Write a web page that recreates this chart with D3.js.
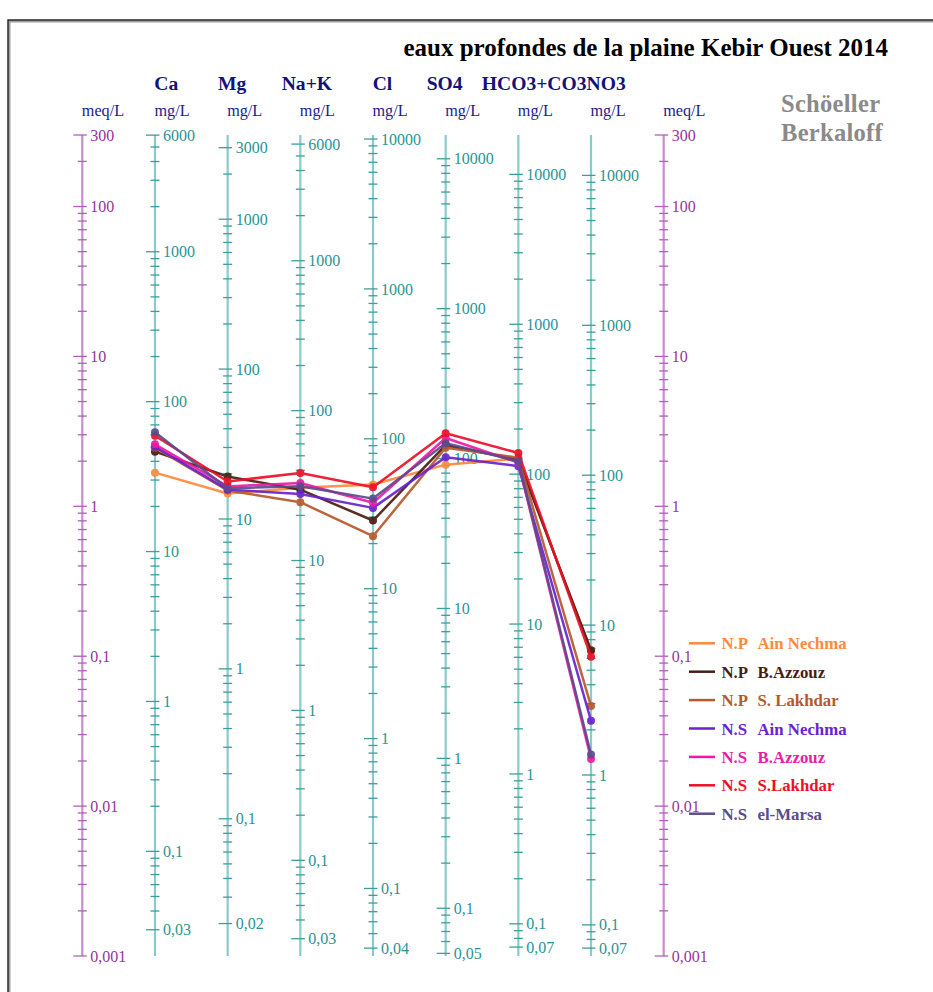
<!DOCTYPE html>
<html>
<head>
<meta charset="utf-8">
<script src="https://cdn.jsdelivr.net/npm/d3@7"></script>
<style>
  html, body { margin: 0; padding: 0; background: #fff; }
  svg { display: block; }
  text { font-family: "Liberation Serif", "Times New Roman", serif; }
</style>
</head>
<body>
<svg id="chart" width="933" height="992"></svg>
<script>
// Ions plotted on the Schoeller-Berkaloff diagram, with equivalent weights (mg per meq)
const ions = ["Ca", "Mg", "Na+K", "Cl", "SO4", "HCO3+CO3", "NO3"];
const equivWeights = [20.04, 12.15, 23.0, 35.45, 48.03, 61.02, 62.0];

// Concentrations in mg/L, one array per well group
const npAinNechma  = [33.6, 14.8, 30.6, 49.5,  91.1, 126.9, 6.7];
const npBAzzouz    = [46.4, 19.2, 29.7, 28.5, 122.8, 124.9, 6.8];
const npSLakhdar   = [49.3, 15.5, 24.5, 22.4, 118.2, 128.8, 2.88];
const nsAinNechma  = [50.1, 15.7, 27.8, 34.6, 102.2, 113.1, 2.30];
const nsBAzzouz    = [52.0, 16.5, 32.9, 37.4, 137.2, 119.3, 1.28];
const nsSLakhdar   = [59.3, 17.8, 38.4, 47.5, 147.7, 138.5, 6.15];
const nsElMarsa    = [62.6, 16.0, 31.3, 39.9, 126.7, 122.1, 1.37];

const seriesNames  = [["N.P", "Ain Nechma"], ["N.P", "B.Azzouz"], ["N.P", "S. Lakhdar"],
                      ["N.S", "Ain Nechma"], ["N.S", "B.Azzouz"], ["N.S", "S.Lakhdar"], ["N.S", "el-Marsa"]];
const seriesValues = [npAinNechma, npBAzzouz, npSLakhdar, nsAinNechma, nsBAzzouz, nsSLakhdar, nsElMarsa];
const seriesColors = ["#ff8a3c", "#4a1d12", "#b65a2c", "#6a22cf", "#ee1aa6", "#ec1028", "#5c4b8e"];

// meq/L range of the diagram
const meqDomain = [0.001, 300];

const titleText = "eaux profondes de la plaine Kebir Ouest 2014";

// ---- layout ----
const svg = d3.select("#chart");
const yTop = 135, yBottom = 956;

// page frame
svg.append("rect").attr("x", 9).attr("y", 21).attr("width", 1000).attr("height", 1000)
  .attr("fill", "none").attr("stroke", "#a0a0a0").attr("stroke-width", 3);
svg.append("rect").attr("x", 8).attr("y", 20).attr("width", 1000).attr("height", 1000)
  .attr("fill", "none").attr("stroke", "#111").attr("stroke-width", 1.2);

// horizontal positions: meq, the seven ions, meq
const axisKeys = ["meqL"].concat(ions, ["meqR"]);
const x = d3.scalePoint().domain(axisKeys).range([82.3, 663.7]);

const yMeq = d3.scaleLog().domain(meqDomain).range([yBottom, yTop]);
const ionScales = equivWeights.map(w =>
  d3.scaleLog().domain([meqDomain[0] * w, meqDomain[1] * w]).range([yBottom, yTop]));

function logTicks(domain) {
  const out = [];
  const k0 = Math.floor(Math.log10(domain[0])), k1 = Math.ceil(Math.log10(domain[1]));
  for (let k = k0; k <= k1; k++) {
    for (let d = 1; d <= 9; d++) {
      const v = +(d * Math.pow(10, k)).toPrecision(6);
      if (v >= domain[0] * (1 - 1e-9) && v <= domain[1] * (1 + 1e-9)) out.push(v);
    }
  }
  return out;
}
function fmt(v) { return String(v).replace(".", ","); }

function drawAxis(cx, scale, lineColor, tickColor, labelColor) {
  const ticks = logTicks(scale.domain());
  const isDecade = v => Math.abs(Math.log10(v) - Math.round(Math.log10(v))) < 1e-9;
  const lo = ticks[0], hi = ticks[ticks.length - 1];
  const labelled = v => isDecade(v) || v === lo || v === hi;
  const g = svg.append("g");
  g.append("line").attr("x1", cx).attr("x2", cx).attr("y1", yTop).attr("y2", yBottom)
    .attr("stroke", lineColor).attr("stroke-width", 2.2);
  g.selectAll("line.t").data(ticks).enter().append("line")
    .attr("x1", d => cx - (labelled(d) ? 9 : 4.5)).attr("x2", d => cx + 4.5)
    .attr("y1", d => scale(d)).attr("y2", d => scale(d))
    .attr("stroke", tickColor).attr("stroke-width", 1.3);
  g.selectAll("text").data(ticks.filter(labelled)).enter().append("text")
    .attr("x", cx + 8).attr("y", d => scale(d)).attr("dy", "0.35em")
    .attr("font-size", 16).attr("fill", labelColor).text(fmt);
}

// meq/L axes on both sides
drawAxis(x("meqL"), yMeq, "#c88ed0", "#b060b8", "#99339a");
drawAxis(x("meqR"), yMeq, "#c88ed0", "#b060b8", "#99339a");
// mg/L axes for each ion
ions.forEach((ion, i) => drawAxis(x(ion), ionScales[i], "#8ccaca", "#3c9e9e", "#2a9494"));

// ion headers and unit labels; a header never starts before the previous one ends
const headerDx = [-0.7, -9.7, -18.6, -0.3, -19, -36.6, -4.5];
let prevEnd = 0;
ions.forEach((ion, i) => {
  const hx = Math.max(x(ion) + headerDx[i], prevEnd);
  const t = svg.append("text").attr("x", hx).attr("y", 90)
    .attr("font-size", 19.6).attr("font-weight", "bold").attr("fill", "#12127a").text(ion);
  prevEnd = hx + t.node().getComputedTextLength();
});
axisKeys.forEach(k => {
  svg.append("text").attr("x", x(k) - 0.5).attr("y", 116)
    .attr("font-size", 16.2).attr("fill", "#1c1c8a").text(k.startsWith("meq") ? "meq/L" : "mg/L");
});

// title and diagram name
svg.append("text").attr("x", 888).attr("y", 56).attr("text-anchor", "end")
  .attr("font-size", 25).attr("font-weight", "bold").attr("fill", "#000").text(titleText);
svg.append("text").attr("x", 781).attr("y", 112).attr("font-size", 24.5)
  .attr("font-weight", "bold").attr("fill", "#8a8a8a").attr("letter-spacing", 0.3).text("Schöeller");
svg.append("text").attr("x", 781).attr("y", 141).attr("font-size", 24.5)
  .attr("font-weight", "bold").attr("fill", "#8a8a8a").attr("letter-spacing", 0.3).text("Berkaloff");

// series polylines and markers
const line = d3.line().x((d, i) => x(ions[i])).y((d, i) => ionScales[i](d));
seriesValues.forEach((vals, s) => {
  const g = svg.append("g").attr("opacity", 0.92);
  g.append("path").datum(vals).attr("d", line).attr("fill", "none")
    .attr("stroke", seriesColors[s]).attr("stroke-width", 2.5).attr("stroke-linejoin", "round");
  g.selectAll("circle").data(vals).enter().append("circle")
    .attr("cx", (d, i) => x(ions[i])).attr("cy", (d, i) => ionScales[i](d))
    .attr("r", 4).attr("fill", seriesColors[s]);
});

// legend
const legend = svg.append("g");
seriesNames.forEach((nm, s) => {
  const yy = 643.3 + s * 28.4;
  legend.append("line").attr("x1", 689).attr("x2", 715).attr("y1", yy).attr("y2", yy)
    .attr("stroke", seriesColors[s]).attr("stroke-width", 2.5);
  legend.append("text").attr("x", 721.5).attr("y", yy).attr("dy", "0.36em")
    .attr("font-size", 16.8).attr("font-weight", "bold").attr("fill", seriesColors[s]).text(nm[0]);
  legend.append("text").attr("x", 757.5).attr("y", yy).attr("dy", "0.36em")
    .attr("font-size", 16.8).attr("font-weight", "bold").attr("fill", seriesColors[s]).text(nm[1]);
});
</script>
</body>
</html>
